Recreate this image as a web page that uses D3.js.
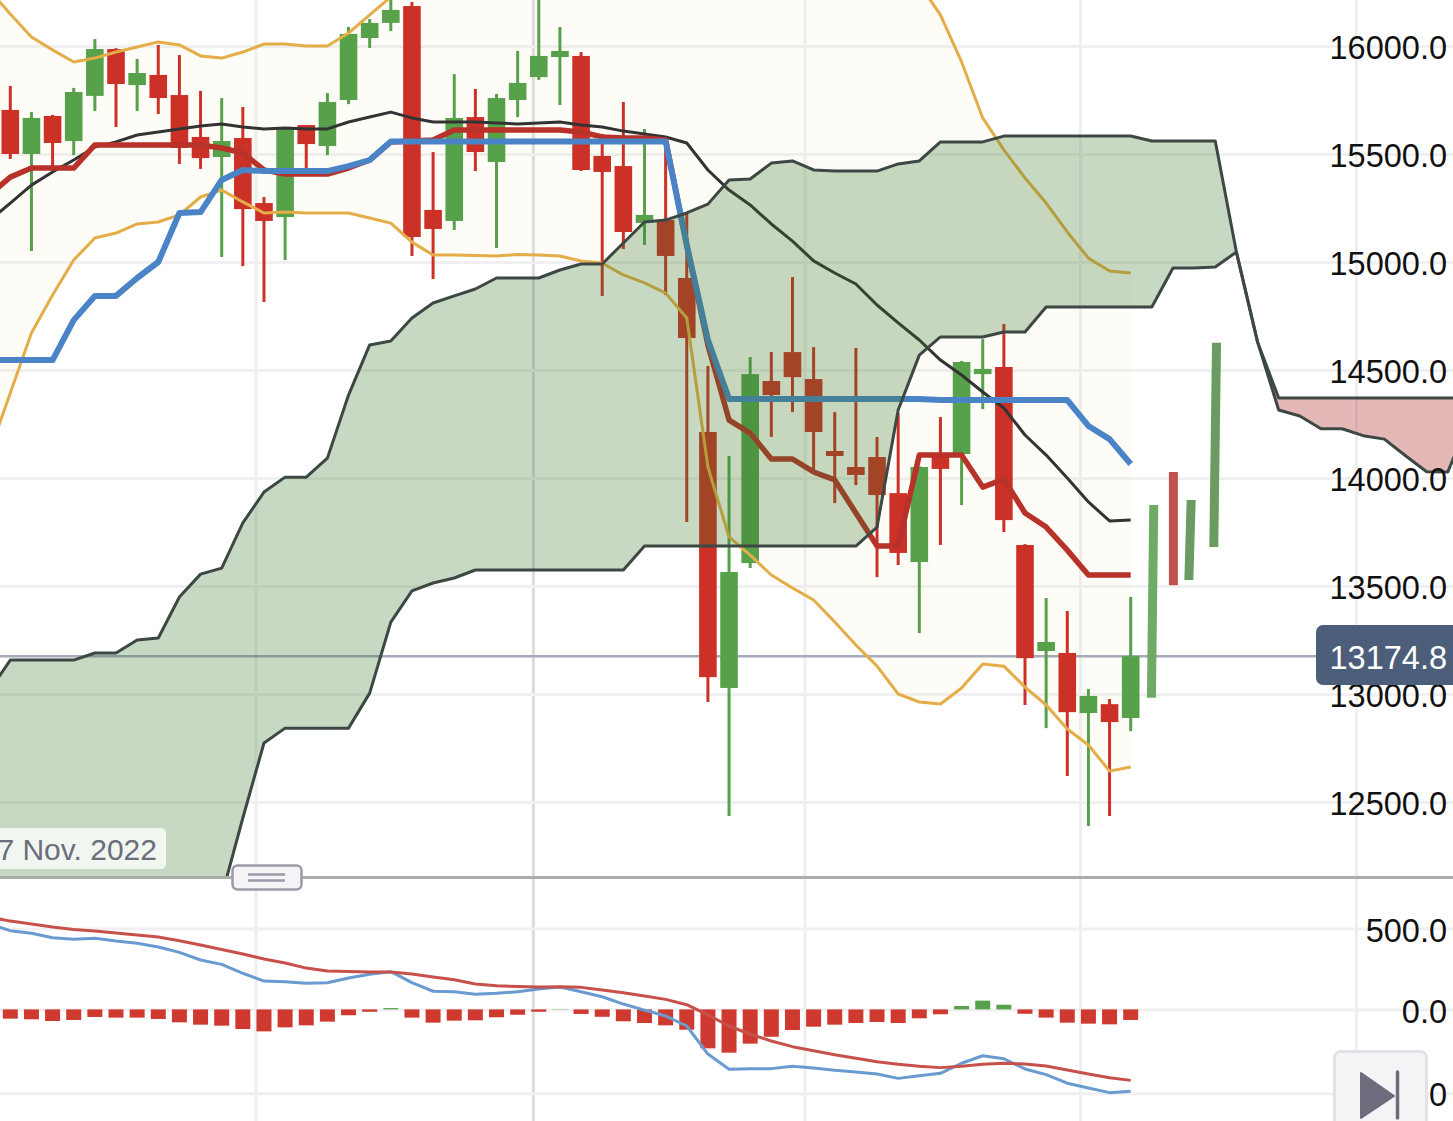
<!DOCTYPE html>
<html>
<head>
<meta charset="utf-8">
<title>Ichimoku chart</title>
<script src="https://cdn.jsdelivr.net/npm/d3@7"></script>
<style>
  html, body { margin: 0; padding: 0; background: #fff; overflow: hidden; }
  svg { display: block; }
  text { font-family: "Liberation Sans", Arial, sans-serif; }
</style>
</head>
<body>
<svg id="chart" width="1453" height="1121"></svg>
<script>
// candles, index 0 is the first whole candle in view
const candleOpen = [15704, 15500, 15676, 15560, 15769, 15986, 15819, 15866, 15773, 15579, 15486, 15574, 15273, 15208, 15634, 15537, 15750, 16037, 16107, 16185, 15241, 15190, 15671, 15463, 15750, 15856, 15949, 15954, 15491, 15444, 15181, 15194, 14926, 14213, 13028, 13606, 14449, 14583, 14458, 14125, 14051, 14097, 13930, 13611, 14106, 14111, 14481, 14514, 13690, 13199, 13190, 12912, 12953, 12889];
const candleHigh = [15815, 15694, 15681, 15806, 16032, 15990, 15940, 16005, 15958, 15792, 15759, 15718, 15301, 15620, 15634, 15782, 16088, 16125, 16236, 16204, 15509, 15870, 15801, 15778, 15977, 16259, 16088, 15972, 15593, 15741, 15616, 15565, 15227, 14518, 14102, 14560, 14583, 14930, 14606, 14305, 14602, 14190, 14301, 14055, 14282, 14542, 14643, 14713, 13694, 13444, 13384, 13023, 12977, 13449];
const candleLow = [15477, 15051, 15440, 15495, 15699, 15625, 15699, 15685, 15454, 15431, 15023, 14981, 14815, 15009, 15435, 15495, 15731, 15991, 16069, 15028, 14921, 15148, 15421, 15065, 15671, 15843, 15727, 15421, 14843, 15060, 15079, 14847, 13796, 12963, 12435, 13583, 14190, 14305, 14037, 13884, 13967, 13541, 13597, 13282, 13690, 13875, 14319, 13750, 12949, 12842, 12620, 12389, 12435, 12828];
const candleClose = [15500, 15667, 15551, 15787, 15986, 15824, 15875, 15759, 15528, 15481, 15560, 15245, 15190, 15616, 15546, 15741, 16056, 16107, 16167, 15116, 15153, 15667, 15509, 15759, 15829, 15954, 15977, 15426, 15417, 15139, 15218, 15028, 14648, 13078, 13565, 14481, 14384, 14467, 14213, 14102, 14014, 13921, 13653, 14051, 14042, 14537, 14505, 13805, 13166, 13241, 12916, 12991, 12870, 13175];

// the four pale slanted bars after the last candle
const projectedOpen = [12983, 14028, 13528, 13680];
const projectedClose = [13875, 13504, 13898, 14626];
const projectedTopIndex = [54.09, 55.02, 55.86, 57.06];
const projectedBottomIndex = [53.98, 55.02, 55.75, 56.93];

// overlays start one bar before index 0, off the left edge
const firstBar = -1;
const tenkan = [15310, 15393, 15435, 15435, 15435, 15542, 15542, 15542, 15542, 15542, 15542, 15528, 15505, 15426, 15407, 15407, 15407, 15435, 15472, 15556, 15560, 15565, 15611, 15611, 15611, 15611, 15611, 15611, 15602, 15579, 15574, 15574, 15565, 15079, 14616, 14268, 14208, 14088, 14088, 14028, 13991, 13838, 13685, 13685, 14106, 14106, 14106, 13958, 13995, 13838, 13773, 13666, 13551, 13551, 13551];
const kijun = [14546, 14546, 14546, 14546, 14731, 14843, 14843, 14926, 15000, 15227, 15231, 15380, 15426, 15421, 15421, 15421, 15421, 15444, 15472, 15558, 15558, 15558, 15558, 15558, 15558, 15558, 15558, 15558, 15558, 15558, 15558, 15558, 15558, 15079, 14639, 14366, 14366, 14366, 14366, 14366, 14366, 14366, 14366, 14366, 14366, 14361, 14361, 14361, 14361, 14361, 14361, 14361, 14241, 14180, 14065];
const chikou = [15190, 15273, 15356, 15417, 15472, 15532, 15556, 15588, 15602, 15616, 15630, 15639, 15625, 15616, 15620, 15616, 15616, 15648, 15671, 15694, 15667, 15648, 15648, 15648, 15644, 15639, 15644, 15648, 15634, 15625, 15606, 15593, 15579, 15551, 15426, 15333, 15264, 15176, 15097, 15005, 14949, 14898, 14801, 14718, 14639, 14546, 14477, 14398, 14324, 14199, 14106, 14000, 13889, 13801, 13805];
const bollingerUpper = [16259, 16148, 16042, 15982, 15926, 15944, 15972, 15995, 16019, 16005, 15954, 15944, 15972, 16009, 16009, 16000, 16000, 16060, 16144, 16227, 16352, 16480, 16600, 16700, 16760, 16800, 16820, 16850, 16880, 16900, 16920, 16940, 17000, 17150, 17300, 17400, 17400, 17350, 17300, 17200, 17100, 16950, 16800, 16550, 16287, 16144, 15926, 15667, 15519, 15389, 15273, 15139, 15018, 14958, 14949];
const bollingerLower = [14116, 14393, 14671, 14847, 15009, 15111, 15134, 15176, 15185, 15218, 15301, 15333, 15278, 15227, 15231, 15227, 15227, 15227, 15204, 15180, 15092, 15032, 15032, 15030, 15028, 15035, 15032, 15028, 15005, 14995, 14940, 14903, 14856, 14741, 14051, 13727, 13643, 13551, 13491, 13435, 13333, 13227, 13129, 13000, 12963, 12954, 13028, 13139, 13129, 13032, 12949, 12838, 12764, 12643, 12662];

// cloud runs on past the last candle, up to index 69
const senkouA = [13014, 13157, 13157, 13157, 13157, 13190, 13190, 13250, 13259, 13449, 13555, 13583, 13792, 13935, 14004, 14004, 14092, 14384, 14616, 14634, 14741, 14810, 14843, 14875, 14926, 14926, 14926, 14963, 14991, 14991, 15088, 15185, 15194, 15227, 15268, 15380, 15384, 15458, 15468, 15426, 15421, 15421, 15421, 15454, 15468, 15556, 15556, 15556, 15583, 15583, 15583, 15583, 15583, 15583, 15583, 15560, 15560, 15560, 15560, 15046, 14630, 14315, 14287, 14228, 14228, 14196, 14180, 14103, 14029, 14028, 14268];
const senkouB = [11583, 11583, 11583, 11583, 11583, 11583, 11583, 11583, 11583, 11583, 11583, 12065, 12426, 12773, 12842, 12842, 12842, 12842, 13004, 13333, 13477, 13514, 13537, 13574, 13574, 13574, 13574, 13574, 13574, 13574, 13574, 13685, 13685, 13685, 13685, 13685, 13685, 13685, 13685, 13685, 13685, 13685, 13773, 14315, 14569, 14653, 14653, 14653, 14676, 14676, 14792, 14792, 14792, 14792, 14792, 14792, 14972, 14972, 14977, 15046, 14630, 14370, 14370, 14370, 14370, 14370, 14370, 14370, 14370, 14370, 14370];

// lower pane
const macdLine = [527, 486, 470, 442, 433, 439, 422, 408, 385, 352, 305, 278, 223, 175, 171, 161, 165, 194, 217, 233, 165, 112, 109, 93, 99, 109, 126, 138, 109, 78, 33, -4, -39, -99, -266, -357, -353, -353, -339, -349, -363, -373, -385, -411, -395, -381, -321, -276, -294, -355, -389, -440, -468, -496, -488];
const signalLine = [570, 545, 527, 508, 493, 484, 471, 459, 447, 424, 397, 370, 342, 311, 286, 255, 237, 234, 231, 231, 218, 200, 183, 157, 146, 141, 138, 140, 136, 120, 103, 83, 62, 29, -33, -99, -148, -188, -222, -246, -270, -291, -312, -327, -339, -347, -339, -327, -321, -325, -337, -361, -385, -407, -423];
const macdHist = [-55, -59, -69, -63, -45, -49, -49, -57, -77, -91, -97, -117, -131, -107, -95, -73, -35, -14, 8, -49, -79, -67, -65, -47, -32, -14, 2, -27, -44, -71, -81, -95, -121, -232, -258, -204, -163, -123, -103, -91, -81, -75, -81, -53, -29, 21, 54, 29, -26, -49, -79, -85, -89, -63];

const priceTicks = [16000, 15500, 15000, 14500, 14000, 13500, 13000, 12500];
const macdTicks = [500, 0, -500];
const dayGrid = [11.6, 37.57, 50.6, 63.66];
const monthGrid = [24.72];
const lastPrice = 13174.8;
const cursorDate = "7 Nov. 2022";

const width = 1453;
const height = 1121;
const splitY = 877.5;

const x = d3.scaleLinear().domain([0, 53]).range([10.3, 1130.7]);
const y = d3.scaleLinear().domain([16000, 12500]).range([46, 802]);
const yMacd = d3.scaleLinear().domain([500, 0, -500]).range([928.4, 1009.4, 1093.3]);

const redColor = "#cc3128";
const greenColor = "#57a14b";

const svg = d3.select("#chart");
const defs = svg.append("defs");
defs.append("clipPath").attr("id", "clip-price")
  .append("rect").attr("width", width).attr("height", splitY);
defs.append("clipPath").attr("id", "clip-macd")
  .append("rect").attr("y", splitY).attr("width", width).attr("height", height - splitY);

function rows(values) {
  return values.map((v, i) => ({ i: i + firstBar, v }));
}

function drawLine(layer, values, scale, color, thickness) {
  const line = d3.line().x((d) => x(d.i)).y((d) => scale(d.v));
  layer.append("path")
    .attr("d", line(rows(values)))
    .attr("fill", "none")
    .attr("stroke", color)
    .attr("stroke-width", thickness)
    .attr("stroke-linejoin", "round");
}

function renderGrid() {
  const vertical = d3.axisBottom(x).tickSize(height).tickFormat("");
  const gridColors = [[dayGrid, "#efeff1"], [monthGrid, "#dcdcde"]];
  gridColors.forEach(([ticks, color]) => {
    const g = svg.append("g").call(vertical.tickValues(ticks));
    g.select(".domain").remove();
    g.selectAll("line").attr("stroke", color).attr("stroke-width", 3);
  });

  const priceGrid = svg.append("g")
    .call(d3.axisRight(y).tickValues(priceTicks).tickSize(width).tickFormat(""));
  const macdGrid = svg.append("g")
    .call(d3.axisRight(yMacd).tickValues(macdTicks).tickSize(width).tickFormat(""));
  [priceGrid, macdGrid].forEach((g) => {
    g.select(".domain").remove();
    g.selectAll("line").attr("stroke", "#f0f0f2").attr("stroke-width", 3);
  });
}

function renderCandles(layer) {
  const candles = candleOpen.map((open, i) => ({
    i, open, close: candleClose[i], high: candleHigh[i], low: candleLow[i],
  }));
  const color = (d) => (d.close >= d.open ? greenColor : redColor);
  const bodyWidth = 17.6;

  const candle = layer.selectAll("g.candle").data(candles).enter().append("g").attr("class", "candle");
  candle.append("line")
    .attr("x1", (d) => x(d.i))
    .attr("x2", (d) => x(d.i))
    .attr("y1", (d) => y(d.high))
    .attr("y2", (d) => y(d.low))
    .attr("stroke", color)
    .attr("stroke-width", 3);
  candle.append("rect")
    .attr("x", (d) => x(d.i) - bodyWidth / 2)
    .attr("width", bodyWidth)
    .attr("y", (d) => y(Math.max(d.open, d.close)))
    .attr("height", (d) => Math.abs(y(d.open) - y(d.close)))
    .attr("fill", color);

  // slanted ones past the end
  const barHalf = 4.5;
  const projected = projectedOpen.map((open, i) => ({
    open,
    close: projectedClose[i],
    topIndex: projectedTopIndex[i],
    bottomIndex: projectedBottomIndex[i],
  }));
  const projectedColors = ["#6fab66", "#c4504d", "#6a9c62", "#6a9c62"];
  layer.selectAll("path.projected").data(projected).enter().append("path")
    .attr("class", "projected")
    .attr("fill", (d, i) => projectedColors[i])
    .attr("d", (d) => {
      const top = y(Math.max(d.open, d.close));
      const bottom = y(Math.min(d.open, d.close));
      const xt = x(d.topIndex);
      const xb = x(d.bottomIndex);
      return d3.line()([[xt - barHalf, top], [xt + barHalf, top], [xb + barHalf, bottom], [xb - barHalf, bottom]]) + "Z";
    });
}

function renderBollingerFill(layer) {
  const band = bollingerUpper.map((upper, i) => ({ i: i + firstBar, upper, lower: bollingerLower[i] }));
  const area = d3.area().x((d) => x(d.i)).y0((d) => y(d.lower)).y1((d) => y(d.upper));
  layer.append("path").attr("d", area(band)).attr("fill", "rgba(235,210,140,0.07)");
}

function renderCloud(layer) {
  const cloud = senkouA.map((a, i) => ({ i: i + firstBar, a, b: senkouB[i] }));
  const area = d3.area().x((d) => x(d.i)).y0((d) => y(d.b)).y1((d) => y(d.a));
  layer.append("path")
    .attr("d", area(cloud.filter((d) => d.i <= 59)))
    .attr("fill", "rgba(56,120,40,0.28)");
  layer.append("path")
    .attr("d", area(cloud.filter((d) => d.i >= 59)))
    .attr("fill", "rgba(162,21,15,0.3)");
  drawLine(layer, senkouB, y, "#3d4844", 3);
  drawLine(layer, senkouA, y, "#3d4844", 3);
}

function renderPricePane() {
  const pane = svg.append("g").attr("clip-path", "url(#clip-price)");
  renderBollingerFill(pane);

  pane.append("line")
    .attr("x1", 0).attr("x2", width)
    .attr("y1", y(lastPrice)).attr("y2", y(lastPrice))
    .attr("stroke", "#a3aaba").attr("stroke-width", 2.5);

  renderCandles(pane);
  drawLine(pane, bollingerUpper, y, "#e4ad47", 3);
  drawLine(pane, bollingerLower, y, "#e4ad47", 3);
  drawLine(pane, chikou, y, "#333333", 3);
  drawLine(pane, tenkan, y, "#b8322a", 5.5);
  drawLine(pane, kijun, y, "#4a84c6", 6);
  renderCloud(pane);
}

function renderMacdPane() {
  const pane = svg.append("g").attr("clip-path", "url(#clip-macd)");
  const histWidth = 15;
  pane.selectAll("rect.hist").data(macdHist).enter().append("rect")
    .attr("class", "hist")
    .attr("x", (d, i) => x(i) - histWidth / 2)
    .attr("width", histWidth)
    .attr("y", (d) => yMacd(Math.max(d, 0)))
    .attr("height", (d) => Math.abs(yMacd(d) - yMacd(0)))
    .attr("fill", (d) => (d >= 0 ? greenColor : "#cf3a30"));
  drawLine(pane, macdLine, yMacd, "#6a9bd0", 3);
  drawLine(pane, signalLine, yMacd, "#c8504a", 3);
}

function renderAxisLabels() {
  const axes = [
    [y, priceTicks],
    [yMacd, macdTicks],
  ];
  axes.forEach(([scale, ticks]) => {
    const g = svg.append("g").call(d3.axisRight(scale).tickValues(ticks).tickSize(0).tickFormat(d3.format(".1f")));
    g.select(".domain").remove();
    g.attr("font-family", null).attr("font-size", null);
    g.selectAll("text")
      .attr("x", 1447)
      .attr("dy", "0.39em")
      .attr("text-anchor", "end")
      .attr("font-size", 32.5)
      .attr("fill", "#111");
  });
}

function renderControls() {
  // pane separator and its drag handle
  svg.append("line")
    .attr("x1", 0).attr("x2", width)
    .attr("y1", splitY).attr("y2", splitY)
    .attr("stroke", "#acaca8").attr("stroke-width", 3);
  svg.append("rect")
    .attr("x", 232.5).attr("y", 865.5).attr("width", 69).attr("height", 24).attr("rx", 5)
    .attr("fill", "#f4f4f6").attr("stroke", "#9a9aa8").attr("stroke-width", 2.5);
  [874.5, 880.5].forEach((lineY) => {
    svg.append("line")
      .attr("x1", 248).attr("x2", 285)
      .attr("y1", lineY).attr("y2", lineY)
      .attr("stroke", "#9a9aa8").attr("stroke-width", 2.5);
  });

  // date under the cursor
  svg.append("rect")
    .attr("x", -10).attr("y", 828).attr("width", 176).attr("height", 41).attr("rx", 5)
    .attr("fill", "rgba(255,255,255,0.77)");
  svg.append("text")
    .attr("x", 157).attr("y", 860)
    .attr("text-anchor", "end")
    .attr("font-size", 30)
    .attr("fill", "#6b6d7b")
    .text(cursorDate);

  // last price tag
  svg.append("rect")
    .attr("x", 1316).attr("y", 625).attr("width", 150).attr("height", 60).attr("rx", 7)
    .attr("fill", "#4d5e7a");
  svg.append("text")
    .attr("x", 1447).attr("y", y(lastPrice) + 12.5)
    .attr("text-anchor", "end")
    .attr("font-size", 32.5)
    .attr("fill", "#ffffff")
    .text(d3.format(".1f")(lastPrice));

  // go-to-end button
  svg.append("rect")
    .attr("x", 1334.5).attr("y", 1051.5).attr("width", 92).attr("height", 90).attr("rx", 6)
    .attr("fill", "#f4f4f6").attr("stroke", "#e2e2e6").attr("stroke-width", 3);
  svg.append("path")
    .attr("d", "M1361 1073 L1394 1096 L1361 1118 Z")
    .attr("fill", "#6c6c7c").attr("stroke", "#6c6c7c").attr("stroke-width", 2).attr("stroke-linejoin", "round");
  svg.append("line")
    .attr("x1", 1397.5).attr("x2", 1397.5).attr("y1", 1072).attr("y2", 1118)
    .attr("stroke", "#6c6c7c").attr("stroke-width", 3.5).attr("stroke-linecap", "round");
}

renderGrid();
renderPricePane();
renderMacdPane();
renderAxisLabels();
renderControls();
</script>
</body>
</html>
